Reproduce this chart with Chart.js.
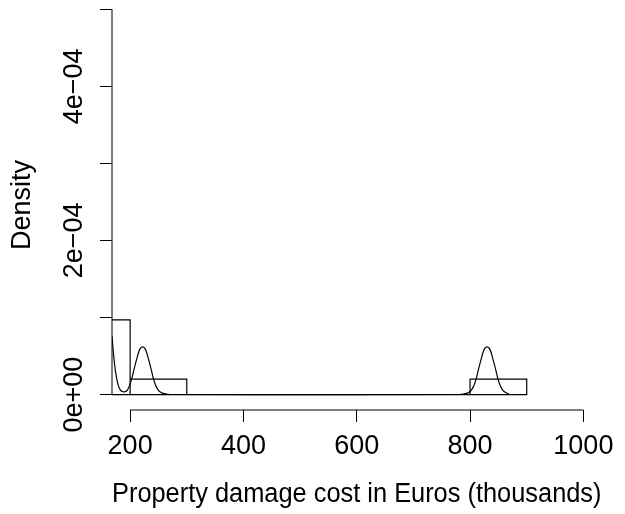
<!DOCTYPE html>
<html>
<head>
<meta charset="utf-8">
<script src="https://cdn.jsdelivr.net/npm/chart.js@4"></script>
<style>
  body { margin: 0; background: #fff; }
  #wrap { width: 625px; height: 514px; }
</style>
</head>
<body>
<div id="wrap"><canvas id="densityChart" width="625" height="514"></canvas></div>
<script>
// histogram bins (bin edges and density of each bin)
const binEdges = [100, 200, 300, 400, 500, 600, 700, 800, 900];
const binDensity = [0.97e-4, 0.2e-4, 0, 0, 0, 0, 0, 0.2e-4];

// density curve (x in thousands of euros, y in 1e-4)
const curveX = [168, 170, 172, 174, 176, 178, 180, 182, 184, 186, 188, 190, 192, 194, 196, 198, 200,
    203, 206, 209, 212, 215, 218, 222, 226, 229, 232, 235, 238, 241, 244, 247, 250, 254, 258, 264, 270,
    400, 600, 782, 788, 794, 798, 802, 805, 808, 811, 814, 817, 820, 823, 826, 830,
    834, 837, 840, 843, 846, 849, 852, 855, 858, 862, 866, 868];
const curveY = [0.76, 0.58, 0.43, 0.31, 0.22, 0.15, 0.10, 0.07, 0.05, 0.04, 0.035, 0.035, 0.04, 0.05, 0.07, 0.10, 0.14,
    0.21, 0.30, 0.39, 0.47, 0.55, 0.60, 0.62, 0.60, 0.55, 0.47, 0.39, 0.30, 0.21, 0.14, 0.09, 0.055, 0.03, 0.015, 0.005, 0.001,
    0, 0, 0.001, 0.005, 0.015, 0.03, 0.055, 0.09, 0.14, 0.21, 0.30, 0.39, 0.47, 0.55, 0.60, 0.62,
    0.60, 0.55, 0.47, 0.39, 0.30, 0.21, 0.14, 0.09, 0.055, 0.03, 0.015, 0.01];

const xTicks = [200, 400, 600, 800, 1000];
const yTicks = [0, 1e-4, 2e-4, 3e-4, 4e-4, 5e-4];
const yTickLabels = ['0e+00', '', '2e\u221204', '', '4e\u221204', ''];

const fontFamily = '"Liberation Sans", Arial, Helvetica, sans-serif';
const fontSize = 27;

// outline of the histogram rectangles
const histOutline = [];
for (let i = 0; i < binDensity.length; i++) {
    const l = binEdges[i], r = binEdges[i + 1], h = binDensity[i];
    histOutline.push({x: l, y: 0}, {x: l, y: h}, {x: r, y: h}, {x: r, y: 0});
}
histOutline.push({x: binEdges[0], y: 0});

const curvePoints = curveX.map((x, i) => ({x: x, y: curveY[i] * 1e-4}));

// R style axes: lines from first to last tick, rotated y labels
const rAxes = {
    id: 'rAxes',
    afterDraw(chart) {
        const ctx = chart.ctx;
        const xs = chart.scales.x, ys = chart.scales.y;
        const area = chart.chartArea;
        ctx.save();
        ctx.strokeStyle = '#000';
        ctx.lineWidth = 1;
        ctx.beginPath();
        ctx.moveTo(area.left, ys.getPixelForValue(yTicks[0]));
        ctx.lineTo(area.left, ys.getPixelForValue(yTicks[yTicks.length - 1]));
        ctx.moveTo(xs.getPixelForValue(xTicks[0]), area.bottom);
        ctx.lineTo(xs.getPixelForValue(xTicks[xTicks.length - 1]), area.bottom);
        ctx.stroke();

        ctx.fillStyle = '#000';
        ctx.font = fontSize + 'px ' + fontFamily;
        ctx.textAlign = 'center';
        ctx.textBaseline = 'alphabetic';
        yTicks.forEach((v, i) => {
            if (!yTickLabels[i]) return;
            ctx.save();
            ctx.translate(area.left - 30, ys.getPixelForValue(v));
            ctx.rotate(-Math.PI / 2);
            ctx.fillText(yTickLabels[i], 0, 0);
            ctx.restore();
        });
        ctx.restore();
    }
};

Chart.defaults.color = '#000';
Chart.defaults.font.family = fontFamily;

const ctx = document.getElementById('densityChart').getContext('2d');
const densityChart = new Chart(ctx, {
    type: 'scatter',
    data: {
        datasets: [{
            label: 'Histogram',
            data: histOutline,
            showLine: true,
            borderColor: '#000',
            borderWidth: 1.2,
            pointRadius: 0,
            tension: 0
        }, {
            label: 'Density',
            data: curvePoints,
            showLine: true,
            borderColor: '#000',
            borderWidth: 1.2,
            pointRadius: 0,
            cubicInterpolationMode: 'monotone'
        }]
    },
    options: {
        responsive: false,
        animation: false,
        layout: { padding: { top: 0, right: 23.5, left: 0, bottom: 0 } },
        plugins: {
            legend: { display: false },
            tooltip: { enabled: false }
        },
        scales: {
            x: {
                type: 'linear',
                min: 168,
                max: 1032,
                afterBuildTicks: scale => { scale.ticks = xTicks.map(v => ({value: v})); },
                afterFit: scale => { scale.height = 104; },
                border: { display: false },
                grid: { drawOnChartArea: false, drawTicks: true, tickLength: 12, color: '#000', lineWidth: 1 },
                ticks: {
                    autoSkip: false,
                    maxRotation: 0,
                    padding: 8,
                    font: { size: fontSize },
                    callback: v => String(v)
                },
                title: {
                    display: true,
                    text: 'Property damage cost in Euros (thousands)',
                    font: { size: fontSize },
                    padding: { top: 0, bottom: 3 }
                }
            },
            y: {
                type: 'linear',
                min: -2e-5,
                max: 5.12e-4,
                afterBuildTicks: scale => { scale.ticks = yTicks.map(v => ({value: v})); },
                afterFit: scale => { scale.width = 112; },
                border: { display: false },
                grid: { drawOnChartArea: false, drawTicks: true, tickLength: 12, color: '#000', lineWidth: 1 },
                ticks: { display: false },
                title: {
                    display: true,
                    text: 'Density',
                    font: { size: fontSize },
                    padding: { top: 6, bottom: 0 }
                }
            }
        }
    },
    plugins: [rAxes]
});
</script>
</body>
</html>
